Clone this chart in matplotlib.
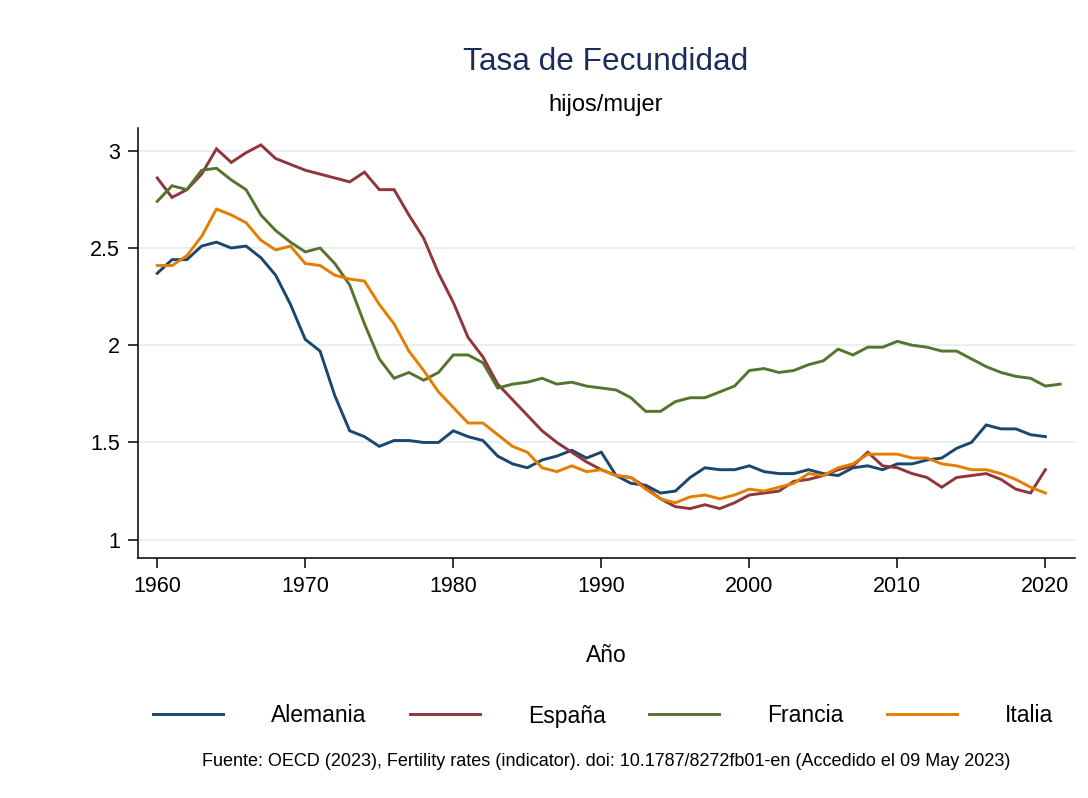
import matplotlib
matplotlib.use("Agg")
import matplotlib.pyplot as plt

years = list(range(1960, 2022))

alemania = [2.37, 2.44, 2.44, 2.51, 2.53, 2.50, 2.51, 2.45, 2.36, 2.21,
            2.03, 1.97, 1.74, 1.56, 1.53, 1.48, 1.51, 1.51, 1.50, 1.50,
            1.56, 1.53, 1.51, 1.43, 1.39, 1.37, 1.41, 1.43, 1.46, 1.42,
            1.45, 1.33, 1.29, 1.28, 1.24, 1.25, 1.32, 1.37, 1.36, 1.36,
            1.38, 1.35, 1.34, 1.34, 1.36, 1.34, 1.33, 1.37, 1.38, 1.36,
            1.39, 1.39, 1.41, 1.42, 1.47, 1.50, 1.59, 1.57, 1.57, 1.54,
            1.53]
espana = [2.86, 2.76, 2.80, 2.88, 3.01, 2.94, 2.99, 3.03, 2.96, 2.93,
          2.90, 2.88, 2.86, 2.84, 2.89, 2.80, 2.80, 2.67, 2.55, 2.37,
          2.22, 2.04, 1.94, 1.80, 1.72, 1.64, 1.56, 1.50, 1.45, 1.40,
          1.36, 1.33, 1.32, 1.27, 1.21, 1.17, 1.16, 1.18, 1.16, 1.19,
          1.23, 1.24, 1.25, 1.30, 1.31, 1.33, 1.36, 1.38, 1.45, 1.38,
          1.37, 1.34, 1.32, 1.27, 1.32, 1.33, 1.34, 1.31, 1.26, 1.24,
          1.36]
francia = [2.74, 2.82, 2.80, 2.90, 2.91, 2.85, 2.80, 2.67, 2.59, 2.53,
           2.48, 2.50, 2.42, 2.31, 2.11, 1.93, 1.83, 1.86, 1.82, 1.86,
           1.95, 1.95, 1.91, 1.78, 1.80, 1.81, 1.83, 1.80, 1.81, 1.79,
           1.78, 1.77, 1.73, 1.66, 1.66, 1.71, 1.73, 1.73, 1.76, 1.79,
           1.87, 1.88, 1.86, 1.87, 1.90, 1.92, 1.98, 1.95, 1.99, 1.99,
           2.02, 2.00, 1.99, 1.97, 1.97, 1.93, 1.89, 1.86, 1.84, 1.83,
           1.79, 1.80]
italia = [2.41, 2.41, 2.46, 2.56, 2.70, 2.67, 2.63, 2.54, 2.49, 2.51,
          2.42, 2.41, 2.36, 2.34, 2.33, 2.21, 2.11, 1.97, 1.87, 1.76,
          1.68, 1.60, 1.60, 1.54, 1.48, 1.45, 1.37, 1.35, 1.38, 1.35,
          1.36, 1.33, 1.32, 1.26, 1.21, 1.19, 1.22, 1.23, 1.21, 1.23,
          1.26, 1.25, 1.27, 1.29, 1.34, 1.33, 1.37, 1.39, 1.44, 1.44,
          1.44, 1.42, 1.42, 1.39, 1.38, 1.36, 1.36, 1.34, 1.31, 1.27,
          1.24]

series_names = ["Alemania", "España", "Francia", "Italia"]
series_values = [alemania, espana, francia, italia]
colors = ["#1a476f", "#90353b", "#55752f", "#e37e00"]
xticks = [1960, 1970, 1980, 1990, 2000, 2010, 2020]
yticks = [1, 1.5, 2, 2.5, 3]
ytick_labels = ["1", "1.5", "2", "2.5", "3"]

plt.rcParams["font.family"] = ["Liberation Sans", "DejaVu Sans"]

fig = plt.figure(figsize=(10.88, 7.98), dpi=100)
ax = fig.add_axes([138/1088, 1-558/798, (1075-138)/1088, (558-128)/798])

for name, vals, c in zip(series_names, series_values, colors):
    ax.plot(years[:len(vals)], vals, color=c, lw=2.1, label=name,
            solid_joinstyle="miter")

ax.set_xlim(1958.7, 2022.0)
ax.set_ylim(0.906, 3.117)
ax.set_xticks(xticks)
ax.set_xticklabels([str(t) for t in xticks], fontsize=15.5)
ax.set_yticks(yticks)
ax.set_yticklabels(ytick_labels, fontsize=15.5)
ax.tick_params(axis="both", direction="out", length=7, width=1.1, color="black", pad=6)
for s in ["top", "right"]:
    ax.spines[s].set_visible(False)
for s in ["left", "bottom"]:
    ax.spines[s].set_linewidth(1.1)
ax.grid(axis="y", color="#e8f0f3", lw=1.4)
ax.set_axisbelow(True)

fig.text(606/1088, 1-655/798, "Año", ha="center", va="center", fontsize=16.5)

fig.text(606/1088, 1-62/798, "Tasa de Fecundidad", ha="center", va="center",
         fontsize=22.8, color="#1a2d5a")
fig.text(606/1088, 1-105/798, "hijos/mujer", ha="center", va="center",
         fontsize=17, color="black")

leg = fig.legend(loc="center", bbox_to_anchor=(603/1088, 1-716/798), ncol=4,
                 frameon=False, fontsize=16.5, handlelength=3.05,
                 handletextpad=2.1, columnspacing=1.9)

fig.text(606/1088, 1-762/798,
         "Fuente: OECD (2023), Fertility rates (indicator). doi: 10.1787/8272fb01-en (Accedido el 09 May 2023)",
         ha="center", va="center", fontsize=13)

fig.savefig("out.png", dpi=100)
